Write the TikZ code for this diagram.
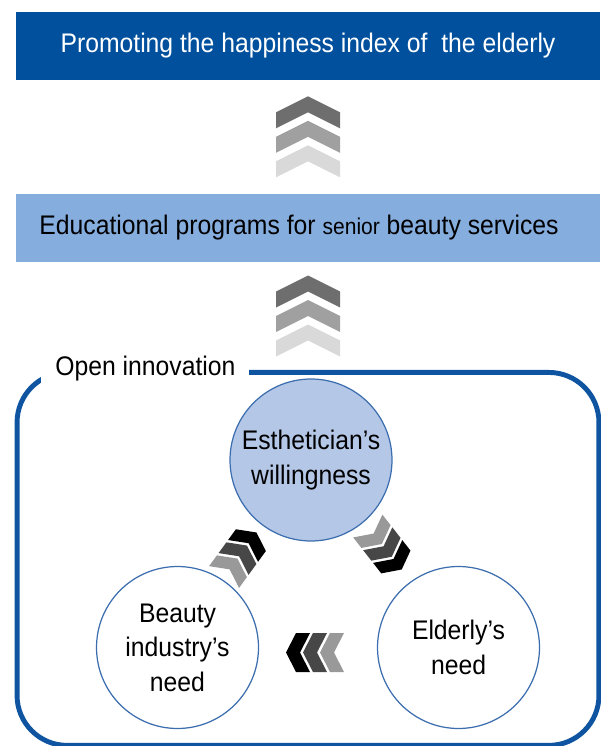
\documentclass[tikz,border=0pt]{standalone}
\usepackage{fontspec}
\setmainfont{Liberation Sans}[FakeStretch=0.92]
\usepackage{tikz}
\usetikzlibrary{positioning,calc}

\definecolor{topblue}{RGB}{0,80,158}
\definecolor{midblue}{RGB}{133,173,222}
\definecolor{frameblue}{RGB}{14,84,160}
\definecolor{ringblue}{RGB}{60,110,175}
\definecolor{ringfill}{RGB}{180,199,231}
\definecolor{chevlight}{RGB}{217,217,217}
\definecolor{chevmid}{RGB}{160,160,160}
\definecolor{chevdark}{RGB}{110,110,110}
\definecolor{chevgray}{RGB}{153,153,153}
\definecolor{chevblack}{RGB}{71,71,71}

\newcommand{\diagfont}{\fontsize{15.3pt}{19.6pt}\selectfont}

\tikzset{
  top_bar/.style={fill=topblue, text=white, minimum width=11.68cm, minimum height=1.36cm, inner sep=0pt, font=\diagfont},
  mid_bar/.style={fill=midblue, text=black, minimum width=11.68cm, minimum height=1.36cm, inner sep=0pt, font=\diagfont},
  frame_box/.style={draw=frameblue, line width=2.8pt, rounded corners=1cm, minimum width=11.64cm, minimum height=7.46cm, inner sep=0pt},
  frame_label/.style={fill=white, inner xsep=0.28cm, inner ysep=2pt, font=\diagfont, anchor=west},
  need/.style={circle, draw=ringblue, line width=0.7pt, fill=white, minimum size=3.24cm, inner sep=0pt, align=center, font=\diagfont},
  pics/big_chevrons/.style={code={
    \foreach \s/\c in {-40.5/chevlight, -16/chevmid, 8.5/chevdark}
      \fill[\c] (\s,-32) -- ++(16,0) -- ++(16,32) -- ++(-16,32) -- ++(-16,0) -- ++(16,-32) -- cycle;
  }},
  pics/small_chevrons/.style={code={
    \foreach \s/\c in {-29/chevgray, -12/chevblack, 5/black}
      \fill[\c] (\s,-19.5) -- ++(14,0) -- ++(10,19.5) -- ++(-10,19.5) -- ++(-14,0) -- ++(10,-19.5) -- cycle;
  }}
}

\begin{document}
\begin{tikzpicture}[x=0.02cm, y=-0.02cm]
  \useasboundingbox (0,0) rectangle (600,746);

  % bars
  \node[top_bar] (happiness_index) at (308,46) {Promoting the happiness index of\ \ the elderly};
  \node[mid_bar, below=2.26cm of happiness_index] (education_programs) {Educational programs for {\fontsize{13pt}{15pt}\selectfont senior} beauty services\hspace*{0.36cm}};

  % open innovation frame
  \node[frame_box, below=2.16cm of education_programs] (innovation_frame) {};
  \node[frame_label] (open_innovation) at (41,369) {Open innovation};

  % needs
  \node[need, fill=ringfill] (esthetician_willingness) at (311,460) {Esthetician’s\\willingness};
  \node[need] (beauty_industry_need) at (177.5,647.5) {Beauty\\industry’s\\need};
  \node[need] (elderly_need) at (458.5,647.5) {Elderly’s\\need};

  % chevrons
  \pic[rotate=90] at ($(happiness_index.south)!0.5!(education_programs.north)$) {big_chevrons};
  \pic[rotate=90] at ($(education_programs.south)!0.5!(innovation_frame.north)$) {big_chevrons};

  \pic[rotate=54, scale=0.95] at ($(beauty_industry_need)!0.5!(esthetician_willingness)+(-4,1)$) {small_chevrons};
  \pic[rotate=-52, scale=0.95] at ($(esthetician_willingness)!0.5!(elderly_need)+(0,-6)$) {small_chevrons};
  \pic[rotate=180] at ($(elderly_need)!0.5!(beauty_industry_need)+(-3,5)$) {small_chevrons};

\end{tikzpicture}
\end{document}
